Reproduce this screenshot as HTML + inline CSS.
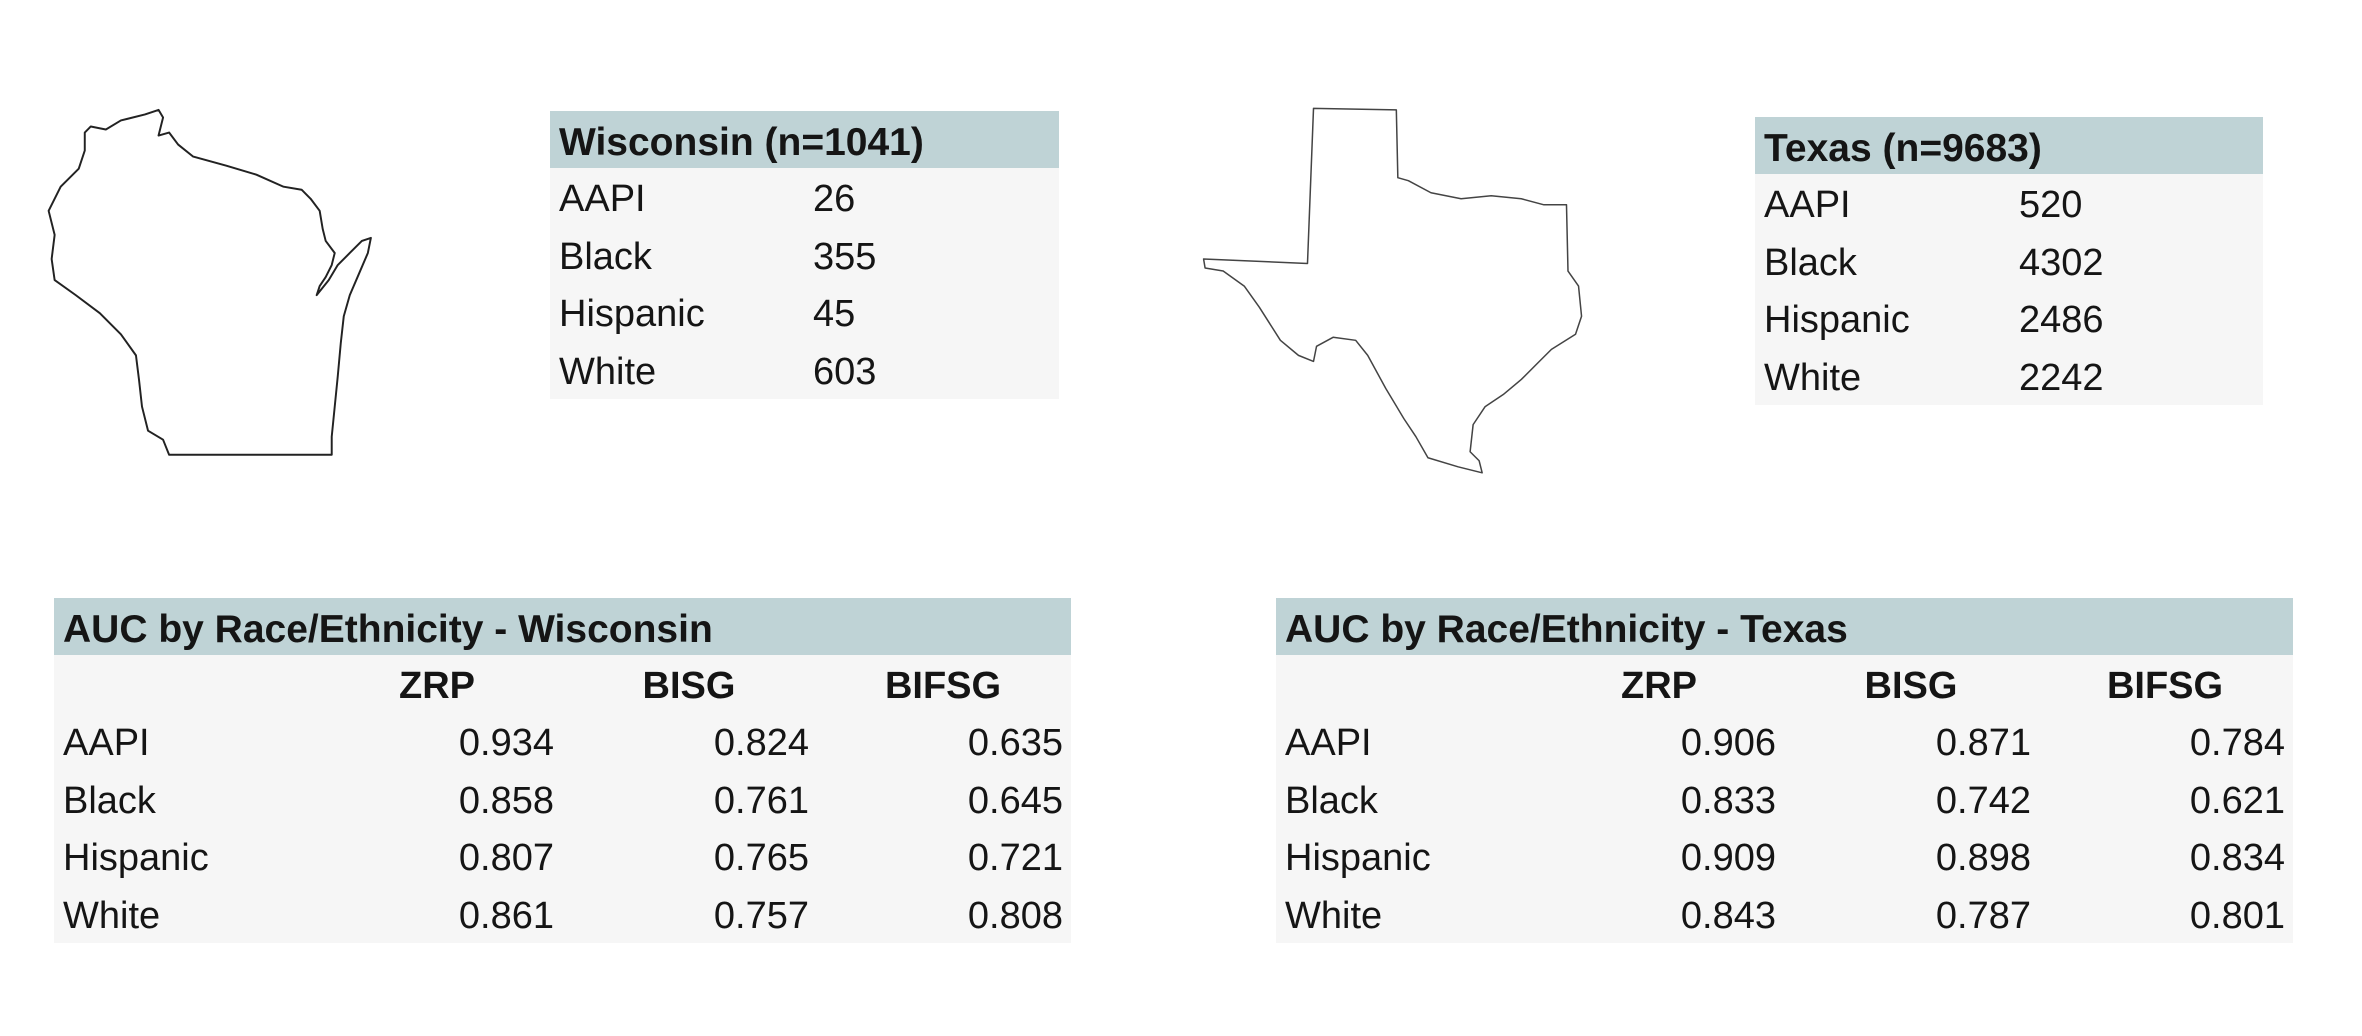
<!DOCTYPE html>
<html><head><meta charset="utf-8"><style>
body{margin:0;width:2362px;height:1036px;background:#fff;position:relative;overflow:hidden;font-family:"Liberation Sans",Arial,sans-serif;color:#151515}
.t{position:absolute;background:#f6f6f6}
.h{position:absolute;left:0;right:0;top:0;background:#bfd3d6;font-weight:bold;font-size:39px;line-height:57px;padding-left:9px;padding-top:3px;height:57px;box-sizing:border-box}
.c{position:absolute;font-size:38px;line-height:57px;white-space:nowrap;margin-top:3px}
.r{text-align:right}
.b{font-weight:bold;text-align:center}
</style></head><body>
<svg style="position:absolute;left:0;top:0" width="2362" height="1036" viewBox="0 0 1568 688">
<polygon fill="none" stroke="#222" stroke-width="1.3" stroke-linejoin="round" points="56,88 60,84 70,86 80,80 96,76 105,73 108,78 105,90 112,88 118,96 128,104 150,110 170,116 188,124 200,126 206,132 212,140 214,152 216,160 222,168 220,176 216,184 212,190 210,196 218,186 224,176 232,168 240,160 246,158 244,168 238,182 232,196 228,210 226,228 224,250 222,270 220,290 220,302 112,302 108,292 98,286 94,270 92,252 90,236 80,222 66,208 50,196 36,186 34,172 36,156 32,140 40,124 52,112 56,100"/>
<polygon fill="none" stroke="#444" stroke-width="1" stroke-linejoin="round" points="872,72 927,73 928,118 935,120 950,128 970,132 990,130 1010,132 1025,136 1040,136 1041,180 1048,190 1050,210 1046,222 1030,232 1022,240 1010,252 998,262 986,270 978,282 976,300 982,306 984,314 968,310 948,304 940,290 932,278 920,258 908,236 900,226 885,224 874,230 872,240 862,236 850,226 836,204 826,190 812,180 800,178 799,172 868,175"/>
</svg>

<div class="t" style="left:550px;top:111px;width:509px;height:288px">
<div class="h">Wisconsin (n=1041)</div>
<div class="c" style="left:9px;top:57px">AAPI</div><div class="c" style="left:263px;top:57px">26</div>
<div class="c" style="left:9px;top:115px">Black</div><div class="c" style="left:263px;top:115px">355</div>
<div class="c" style="left:9px;top:172px">Hispanic</div><div class="c" style="left:263px;top:172px">45</div>
<div class="c" style="left:9px;top:230px">White</div><div class="c" style="left:263px;top:230px">603</div>
</div>

<div class="t" style="left:1755px;top:117px;width:508px;height:288px">
<div class="h">Texas (n=9683)</div>
<div class="c" style="left:9px;top:57px">AAPI</div><div class="c" style="left:264px;top:57px">520</div>
<div class="c" style="left:9px;top:115px">Black</div><div class="c" style="left:264px;top:115px">4302</div>
<div class="c" style="left:9px;top:172px">Hispanic</div><div class="c" style="left:264px;top:172px">2486</div>
<div class="c" style="left:9px;top:230px">White</div><div class="c" style="left:264px;top:230px">2242</div>
</div>

<div id="auc-wi" class="t" style="left:54px;top:598px;width:1017px;height:345px">
<div class="h">AUC by Race/Ethnicity - Wisconsin</div>
</div>
<div id="auc-tx" class="t" style="left:1276px;top:598px;width:1017px;height:345px">
<div class="h">AUC by Race/Ethnicity - Texas</div>
</div>

<script>
const methods = ["ZRP","BISG","BIFSG"];
const groups = ["AAPI","Black","Hispanic","White"];
const wiZRP = ["0.934","0.858","0.807","0.861"];
const wiBISG = ["0.824","0.761","0.765","0.757"];
const wiBIFSG = ["0.635","0.645","0.721","0.808"];
const txZRP = ["0.906","0.833","0.909","0.843"];
const txBISG = ["0.871","0.742","0.898","0.787"];
const txBIFSG = ["0.784","0.621","0.834","0.801"];

function fill(id, cols, prefix){
  const t = document.getElementById(id);
  const rowH = 57.7, colRight = [500, 755, 1009], colW = 240;
  methods.forEach((m,j)=>{
    const d = document.createElement('div');
    d.className = 'c b';
    d.style.left = (colRight[j]-colW+(j===0?3:0))+'px';
    d.style.width = colW+'px';
    d.style.top = '57px';
    d.textContent = m;
    
    
    t.appendChild(d);
  });
  groups.forEach((g,i)=>{
    const top = 114 + i*rowH;
    const l = document.createElement('div');
    l.className = 'c';
    l.style.left = '9px';
    l.style.top = top+'px';
    l.textContent = g;
    
    
    t.appendChild(l);
    cols.forEach((arr,j)=>{
      const v = document.createElement('div');
      v.className = 'c r';
      v.style.left = (colRight[j]-colW)+'px';
      v.style.width = colW+'px';
      v.style.top = top+'px';
      v.textContent = arr[i];
      
      
      t.appendChild(v);
    });
  });
}
fill('auc-wi', [wiZRP, wiBISG, wiBIFSG], 'wi');
fill('auc-tx', [txZRP, txBISG, txBIFSG], 'tx');
</script>
</body></html>
